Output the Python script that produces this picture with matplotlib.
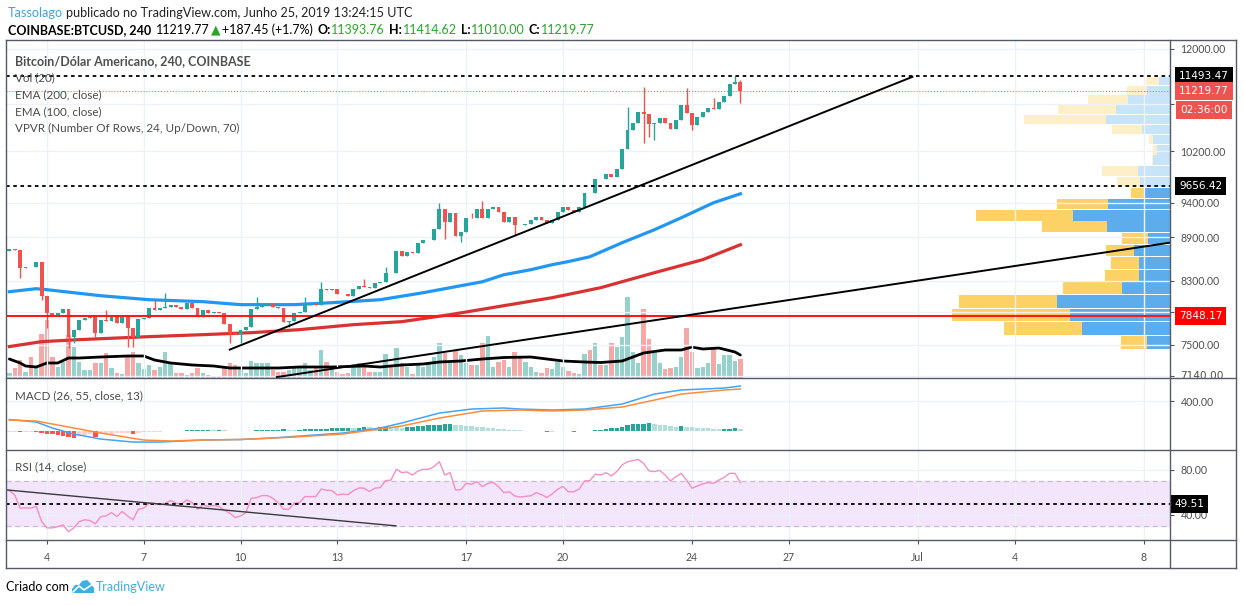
import numpy as np
import pandas as pd
import matplotlib
matplotlib.use("Agg")
import matplotlib.pyplot as plt
import matplotlib.dates as mdates
import matplotlib.transforms as mtransforms
from matplotlib.lines import Line2D
from matplotlib.patches import Polygon
from matplotlib.transforms import Bbox, TransformedBbox

# ---------------- dados ----------------
first_bar = "2019-06-02 20:00"   # candles de 4h
open0 = 8700
close = [
    8735, 8722, 8477, 8490, 8485, 8558, 8108, 7893, 7868, 7893,
    7943, 7598, 7683, 7806, 7831, 7843, 7646, 7806, 7793, 7868,
    7768, 7856, 7707, 7598, 7818, 7831, 7956, 7930, 7956, 7968,
    7994, 7968, 7943, 8019, 7956, 7843, 7930, 7893, 7905, 7893,
    7756, 7646, 7630, 7683, 7719, 7943, 7968, 7994, 8000, 7968,
    7956, 7781, 7793, 7893, 7905, 7994, 8006, 7994, 8199, 8186,
    8190, 8134, 8130, 8108, 8199, 8238, 8225, 8212, 8277, 8290,
    8410, 8405, 8708, 8640, 8694, 8681, 8820, 8862, 8865, 9018,
    9309, 9119, 9250, 8919, 8975, 9177, 9170, 9309, 9177, 9309,
    9339, 9264, 9119, 9191, 9076, 9070, 9080, 9148, 9191, 9148,
    9105, 9148, 9264, 9339, 9294, 9264, 9339, 9548, 9540, 9763,
    9755, 9841, 9794, 9919, 10239, 10552, 10669, 10857, 10824, 10653,
    10660, 10755, 10669, 10569, 10721, 10980, 10840, 10636, 10772, 10857,
    10928, 10910, 11033, 11137, 11352, 11388, 11219.77]
high_wicks = {18: 7930, 27: 8057, 29: 8147, 46: 8095, 55: 8095, 58: 8290,
              66: 8330, 70: 8490, 80: 9398, 86: 9250, 88: 9428, 115: 10941,
              118: 11298, 126: 11280, 131: 11102, 135: 11493.47, 136: 11414.62}
low_wicks = {2: 8343, 6: 8057, 7: 7707, 11: 7467, 12: 7526, 16: 7598,
             22: 7479, 23: 7479, 41: 7526, 43: 7526, 52: 7719, 81: 8876,
             84: 8834, 94: 8933, 118: 10337, 119: 10436, 120: 10387,
             127: 10552, 136: 11010}

volume = [
    500, 1000, 1800, 600, 2100, 1000, 4400, 5800, 2100, 1100,
    1600, 4300, 3100, 1600, 800, 800, 1500, 1500, 2500, 1000,
    500, 400, 2100, 2600, 1500, 900, 1300, 800, 1100, 2600,
    1500, 500, 500, 300, 500, 1000, 500, 300, 200, 200,
    1200, 1500, 1300, 1100, 500, 1700, 1500, 1500, 1500, 800,
    600, 600, 800, 1200, 1000, 1500, 800, 1100, 2800, 1600,
    1100, 600, 400, 500, 1400, 1500, 1300, 600, 600, 600,
    2400, 1200, 3000, 1500, 1100, 400, 1300, 1100, 1500, 2100,
    3500, 2500, 1500, 2700, 2300, 1500, 1300, 1300, 3500, 4200,
    1100, 1600, 1800, 1100, 2600, 2100, 1600, 1100, 600, 500,
    1000, 900, 1600, 1100, 700, 500, 400, 2400, 2800, 3500,
    1300, 1300, 3500, 3100, 4100, 8100, 2600, 1500, 6900, 3900,
    2500, 1500, 900, 1000, 1100, 2100, 5000, 2600, 1000, 1100,
    1500, 2900, 1400, 2300, 2300, 1700, 1900]

vma_idx = [0, 2, 3, 5, 7, 9, 11, 13, 17, 22, 25, 27, 30, 34, 38, 41, 44, 47, 50, 54,
           60, 66, 69, 73, 77, 80, 84, 88, 92, 97, 103, 107, 110, 114, 116, 118,
           122, 125, 127, 129, 132, 135, 136]
vma_val = [1900, 1500, 1200, 1100, 1500, 1500, 2000, 2000, 2100, 2200, 2200, 1800, 1500,
           1300, 1200, 1000, 1000, 1000, 1000, 1100, 1100, 1200, 1100, 1300, 1400, 1600,
           1700, 1900, 2050, 2100, 1700, 1600, 1550, 1700, 2100, 2500, 2800, 2800,
           3100, 2900, 3000, 2600, 2300]

ema100_idx = [0, 5, 7, 17, 26, 36, 43, 53, 60, 69, 77, 82, 88, 92, 97, 101, 104, 108,
              114, 120, 125, 131, 136]
ema100_val = [8160, 8199, 8186, 8108, 8057, 8032, 7994, 7994, 8019, 8057, 8147, 8212, 8290,
              8383, 8450, 8518, 8560, 8626, 8820, 9004, 9177, 9398, 9533]
ema200_idx = [0, 6, 13, 26, 36, 45, 54, 64, 73, 82, 92, 101, 110, 120, 129, 136]
ema200_val = [7479, 7538, 7562, 7598, 7622, 7646, 7683, 7744, 7781, 7868, 7981, 8083,
              8212, 8410, 8586, 8792]

macd_idx = [0, 5, 8, 12, 17, 23, 28, 36, 43, 49, 54, 62, 69, 73, 80, 86, 92, 95, 101,
            107, 114, 120, 125, 129, 133, 136]
macd_val = [153, 120, 40, -40, -107, -147, -147, -120, -113, -93, -67, -27, 40, 107, 240,
            293, 307, 293, 280, 293, 360, 493, 547, 560, 573, 600]
signal_idx = [0, 5, 10, 17, 25, 30, 36, 43, 53, 62, 69, 73, 80, 88, 95, 101, 107, 114,
              120, 125, 129, 133, 136]
signal_val = [147, 133, 67, -27, -120, -133, -120, -113, -80, -40, 27, 67, 173, 267, 280,
              267, 280, 320, 413, 493, 520, 547, 560]
hist = [-8, -8, -10, -10, -10, -12, -25, -35, -40, -55, -70, -85, -93, -70, -50, -40, -80,
        -45, -40, -35, -30, -28, -25, -35, -20, -15, -12, -10, -8, -5, -2, 0, 0,
        8, 10, 10, 12, 12, 10, 10, 8, 6, 2, 0, 0, 2,
        10, 15, 18, 20, 20, 22, 20, 18, 20, 25, 28, 30, 30, 32, 35,
        38, 42, 45, 40, 45, 50, 48, 45, 50, 52, 50, 48,
        45, 55, 60, 65, 70, 75, 80, 85, 90, 93, 80, 75, 70, 65, 60,
        50, 45, 40, 30, 25, 20, 15, 8, 2, 0, -2, -2, -8, -8, -6, -2, 0, -7, -5, 0, 5,
        13, 20, 28, 35, 45, 60, 75, 88, 95, 100, 102, 90, 80, 75, 68, 60, 70,
        55, 50, 45, 40, 35, 28, 22, 28, 32, 35, 30]

rsi = [61.6, 57.8, 46, 46.3, 46, 47.6, 34, 28.4, 28.4, 29.5,
       31, 25, 28.4, 34, 35.6, 35, 32, 38.5, 39, 42,
       38.5, 43, 39, 35.6, 45, 46, 50.4, 50.4, 49, 50.4,
       52.7, 50.4, 49.5, 53.3, 51, 45, 49, 47.6, 48.4, 47.6,
       44, 41.6, 37.6, 39, 42, 54.8, 55.4, 57.2, 57.2, 54.8,
       51, 45, 45, 50.4, 51, 56.3, 56.3, 56.3, 63, 62,
       61.6, 57.8, 58.5, 58, 61.6, 64, 63.8, 60.8, 63.8, 64.3,
       70.5, 71, 80.7, 77.6, 78.2, 75.5, 79, 80.6, 80.6, 83,
       87.4, 75.5, 77.6, 62.2, 62.5, 68, 67.3, 69.6, 65.2, 68,
       69, 65.2, 59.8, 60.6, 56.9, 55.8, 56.5, 57, 59.8, 58,
       55.6, 58.7, 62.8, 65.2, 60.6, 60.6, 62.8, 70.2, 70.5, 76.3,
       75.5, 77.6, 74.7, 78.5, 84.5, 87.4, 88.3, 89.4, 85.8, 79.2,
       78.5, 79.7, 75.5, 70.2, 74, 77, 71, 63.7, 65.8, 67.6,
       68.7, 68.1, 71, 73.4, 77, 77, 68.7]

# VPVR (24 linhas, de baixo para cima)
vp_low, vp_high = 7450, 11493.47
vp_up = [227, 883, 1000, 1127, 477, 307, 310, 357, 217, 627, 967, 617, 257,
         300, 317, 167, 127, 167, 283, 643, 543, 423, 233, 110]
vp_down = [263, 777, 1177, 983, 596, 343, 283, 283, 260, 650, 973, 510, 133,
           233, 366, 10, 40, 40, 300, 814, 574, 400, 194, 133]
value_area_rows = 13

# desenhos
trend1 = (["2019-06-09 16:00", "2019-06-30 20:00"], [7443, 11478])
trend2 = (["2019-06-11 03:00", "2019-07-08 20:00"], [7125, 8822])
rsi_trend = (["2019-06-02 18:00", "2019-06-14 19:40"], [62.2, 30.2])
level_high = 11493.47
level_mid = 9656.42
poc = 7848.17
last_price = 11219.77
rsi_level = 49.51

price_ticks = [7140, 7500, 7900, 8300, 8900, 9400, 10200, 11000, 12000]
hidden_ticks = [7140, 7900, 11000]   # rótulos escondidos pelas etiquetas
day_ticks = ["2019-06-04", "2019-06-07", "2019-06-10", "2019-06-13", "2019-06-17",
             "2019-06-20", "2019-06-24", "2019-06-27", "2019-07-01", "2019-07-04",
             "2019-07-08"]
day_labels = ["4", "7", "10", "13", "17", "20", "24", "27", "Jul", "4", "8"]

# ---------------- figura ----------------
plt.rcParams['font.family'] = ['Lato', 'DejaVu Sans']
W, H = 1244, 605
fig = plt.figure(figsize=(W / 100, H / 100), dpi=100)
fig.patch.set_facecolor('white')

def fx(px):
    return px / W

def fy(py):
    return 1 - py / H

L, R = 6, 1170
ax = fig.add_axes([fx(L), fy(378), (R - L) / W, (378 - 40) / H])
axm = fig.add_axes([fx(L), fy(450), (R - L) / W, (450 - 378) / H], sharex=ax)
axr = fig.add_axes([fx(L), fy(540), (R - L) / W, (540 - 450) / H], sharex=ax)

t = pd.date_range(first_bar, periods=len(close), freq="4h")
x = mdates.date2num(t.to_pydatetime())
bar_w = 4 / 24
close = np.array(close, dtype=float)
opens = np.concatenate([[open0], close[:-1]])
opens[136] = 11393.76
up = close >= opens
c_up, c_dn = '#26a69a', '#ef5350'

jun4 = mdates.date2num(pd.Timestamp("2019-06-04").to_pydatetime())
ppd = 32.25
ax.set_xlim(jun4 - (47 - L) / ppd, jun4 + (R - 47) / ppd)

# volume (eixo gêmeo, atrás)
axv = ax.twinx()
axv.set_zorder(ax.get_zorder() - 1)
ax.patch.set_visible(False)
axv.bar(x, volume, width=bar_w * 0.8, color=np.where(up, '#94d2cb', '#f6a8a6'), zorder=1)
axv.plot(x[vma_idx], vma_val, color='black', lw=2.0, zorder=2, solid_capstyle='round')
axv.set_ylim(0, 33800)
axv.set_yticks([])

# VPVR (eixo gêmeo em x, ancorado à direita)
axp = ax.twiny()
axp.set_zorder(ax.get_zorder() - 1)
axp.set_xlim(11640, 0)
row_h = (vp_high - vp_low) / 24
rows = vp_low + np.arange(24) * row_h
solid = np.arange(24) < value_area_rows
axp.barh(rows, vp_up, height=row_h * 0.93, left=0, align='edge',
         color=np.where(solid, '#5dadec', '#c7e4f8'))
axp.barh(rows, vp_down, height=row_h * 0.93, left=vp_up, align='edge',
         color=np.where(solid, '#fcd166', '#fdefc8'))
axp.set_xticks([])

# preço
ax.set_yscale('log')
ax.set_ylim(7115, 12170)
ax.plot(x[ema100_idx], ema100_val, color='#2196f3', lw=2.3, zorder=2)
ax.plot(x[ema200_idx], ema200_val, color='#d83232', lw=2.3, zorder=2)

hi = np.maximum(opens, close)
lo = np.minimum(opens, close)
for k, v in high_wicks.items():
    hi[k] = max(hi[k], v)
for k, v in low_wicks.items():
    lo[k] = min(lo[k], v)
cols = np.where(up, c_up, c_dn)
ax.vlines(x, lo, hi, colors=cols, lw=1, zorder=3)
ax.bar(x, np.abs(close - opens), bottom=np.minimum(opens, close), width=bar_w * 0.74,
       color=cols, zorder=3)

ax.axhline(level_high, color='black', lw=1.3, ls=(0, (2, 2)), zorder=4)
ax.axhline(level_mid, color='black', lw=1.3, ls=(0, (2, 2)), zorder=4)
ax.axhline(last_price, color='#ef5350', lw=0.7, ls=(0, (1, 2)), zorder=4)
ax.axhline(poc, color='#ff1a1a', lw=1.5, zorder=4)
for tr in (trend1, trend2):
    tx = mdates.date2num(pd.to_datetime(tr[0]).to_pydatetime())
    ax.plot(tx, tr[1], color='black', lw=1.4, zorder=5)

# MACD
axm.set_ylim(-253, 707)
hcols = []
for i, v in enumerate(hist):
    prev = hist[i - 1] if i > 0 else v
    if v >= 0:
        hcols.append('#26a69a' if v >= prev else '#b2dfdb')
    else:
        hcols.append('#ffcdd2' if v >= prev else '#ff5252')
axm.bar(x, hist, width=bar_w * 0.8, color=hcols, zorder=2)
axm.plot(x[macd_idx], macd_val, color='#42a5f5', lw=1.1, zorder=3)
axm.plot(x[signal_idx], signal_val, color='#ff8c3a', lw=1.1, zorder=3)

# RSI
axr.set_ylim(17.6, 97.8)
axr.axhspan(30, 70, color='#f3e5fb', zorder=0)
axr.axhline(70, color='#c9c0cf', lw=0.9, ls=(0, (4, 3)), zorder=1)
axr.axhline(30, color='#c9c0cf', lw=0.9, ls=(0, (4, 3)), zorder=1)
axr.plot(x, rsi, color='#f490c0', lw=1.0, zorder=3)
axr.axhline(rsi_level, color='black', lw=1.3, ls=(0, (2, 2)), zorder=4)
tx = mdates.date2num(pd.to_datetime(rsi_trend[0]).to_pydatetime())
axr.plot(tx, rsi_trend[1], color='#3a3a3a', lw=1.0, zorder=5)

# eixos, grades
tick_dates = mdates.date2num(pd.to_datetime(day_ticks).to_pydatetime())
axr.set_xticks(tick_dates)
axr.set_xticklabels(day_labels)
grid_c = '#edf2f8'
for a in (ax, axm, axr):
    for s in a.spines.values():
        s.set_visible(False)
    a.grid(True, color=grid_c, lw=1, zorder=0)
    a.set_axisbelow(True)
    a.yaxis.tick_right()
    a.tick_params(axis='y', direction='out', length=3, width=0.8, color='#50535e',
                  labelcolor='#4f4f4f', labelsize=7.6, pad=4.5)
    a.tick_params(axis='x', length=0, labelbottom=False)
for s in axv.spines.values():
    s.set_visible(False)
for s in axp.spines.values():
    s.set_visible(False)
axr.tick_params(axis='x', direction='out', length=3, width=0.8, color='#50535e',
                labelcolor='#4f4f4f', labelsize=7.6, labelbottom=True, pad=5.5)

ax.yaxis.set_minor_locator(matplotlib.ticker.NullLocator())
ax.yaxis.set_minor_formatter(matplotlib.ticker.NullFormatter())
ax.set_yticks(price_ticks)
ax.set_yticklabels(["" if v in hidden_ticks else f"{v:.2f}" for v in price_ticks])
axm.set_yticks([400])
axm.set_yticklabels(["400.00"])
axr.set_yticks([40, 80])
axr.set_yticklabels(["40.00", "80.00"])

# 7140 cortado pela borda do painel
bl = mtransforms.blended_transform_factory(ax.transAxes, ax.transData)
xl = (1180 - L) / (R - L)
t7140 = ax.text(xl, 7135, "7140.00", transform=bl, va='center', ha='left',
                fontsize=7.6, color='#4f4f4f', family='DejaVu Sans', clip_on=True)
t7140.set_clip_box(TransformedBbox(Bbox([[1.0, 0.0], [1.06, 1.0]]), ax.transAxes))

# etiquetas de preço
def price_tag(a, val, text, fc, x_px=1179):
    trans = mtransforms.blended_transform_factory(a.transAxes, a.transData)
    a.text((x_px - L) / (R - L), val, text, transform=trans, va='center', ha='left',
           fontsize=7.6, color='white', family='DejaVu Sans', zorder=10, clip_on=False,
           bbox=dict(boxstyle='square,pad=0.38', fc=fc, ec='none'))

price_tag(ax, level_high, "11493.47", 'black')
price_tag(ax, last_price, "11219.77", '#ef5350')
ax.annotate("02:36:00", xy=(xl, last_price), xycoords=bl, xytext=(0, -13.5),
            textcoords='offset points', va='center', ha='left', fontsize=7.6,
            color='white', family='DejaVu Sans', annotation_clip=False, zorder=10,
            bbox=dict(boxstyle='square,pad=0.38', fc='#ef5350', ec='none'))
price_tag(ax, level_mid, "9656.42", 'black')
price_tag(ax, poc, "7848.17", '#ff0000')
price_tag(axr, rsi_level, "49.51", 'black', x_px=1174)

# títulos dos painéis
lab_c = '#4a4a4a'
legend_lines = ["Vol (20)", "EMA (200, close)", "EMA (100, close)",
                "VPVR (Number Of Rows, 24, Up/Down, 70)"]
fig.text(fx(15), fy(61), "Bitcoin/Dólar Americano, 240, COINBASE", fontsize=9,
         color='#505050', weight='bold', va='center')
for k, s in enumerate(legend_lines):
    fig.text(fx(15), fy(78 + 16.8 * k), s, fontsize=8.4, color=lab_c, va='center')
fig.text(fx(15), fy(396), "MACD (26, 55, close, 13)", fontsize=8.4, color=lab_c, va='center')
fig.text(fx(15), fy(467), "RSI (14, close)", fontsize=8.4, color=lab_c, va='center')

# moldura
frame_c = '#555a66'
for (x0, y0, x1, y1) in [(6, 40, 1236, 40), (6, 568, 1236, 568), (6, 40, 6, 568),
                         (1236, 40, 1236, 568), (1170, 40, 1170, 568),
                         (6, 378, 1236, 378), (6, 450, 1236, 450), (6, 540, 1236, 540)]:
    fig.add_artist(Line2D([fx(x0), fx(x1)], [fy(y0), fy(y1)], color=frame_c, lw=1.0))

# cabeçalho
renderer = fig.canvas.get_renderer()

def run_text(x_px, y_px, pieces, size):
    xp = x_px
    for s, kw, gap in pieces:
        tt = fig.text(fx(xp), fy(y_px), s, va='center', ha='left', fontsize=size, **kw)
        xp += tt.get_window_extent(renderer).width + gap

green = '#2aa52a'
run_text(8, 13, [("Tassolago", dict(color='#3ba3de'), 3),
                 ("publicado no TradingView.com, Junho 25, 2019 13:24:15 UTC",
                  dict(color='#222222'), 0)], 9.1)
run_text(8, 30, [("COINBASE:BTCUSD, 240", dict(color='black', weight='bold'), 5),
                 ("11219.77", dict(color='black'), 1),
                 ("▲", dict(color=green, family='DejaVu Sans'), 1),
                 ("+187.45 (+1.7%)", dict(color='black'), 5),
                 ("O:", dict(color='black', weight='bold'), 0.5),
                 ("11393.76", dict(color=green), 4),
                 ("H:", dict(color='black', weight='bold'), 0.5),
                 ("11414.62", dict(color=green), 4),
                 ("L:", dict(color='black', weight='bold'), 0.5),
                 ("11010.00", dict(color=green), 4),
                 ("C:", dict(color='black', weight='bold'), 0.5),
                 ("11219.77", dict(color=green), 0)], 9)

# rodapé
fig.text(fx(6), fy(587), "Criado com", fontsize=9, color='black', va='center')
logo = [(72, 593), (72, 589), (75, 585), (79, 585), (82, 581), (87, 580), (91, 584),
        (94, 588), (94, 593)]
fig.add_artist(Polygon([(fx(a), fy(b)) for a, b in logo], closed=True, fc='#3bb0e3',
                       ec='none', transform=fig.transFigure))
fig.add_artist(Line2D([fx(73), fx(79), fx(84), fx(93)], [fy(592), fy(586), fy(590), fy(584)],
                      color='white', lw=1.2))
fig.text(fx(96), fy(587), "TradingView", fontsize=9, color='#3bb0e3', va='center')

fig.savefig("out.png", dpi=100, facecolor='white')
